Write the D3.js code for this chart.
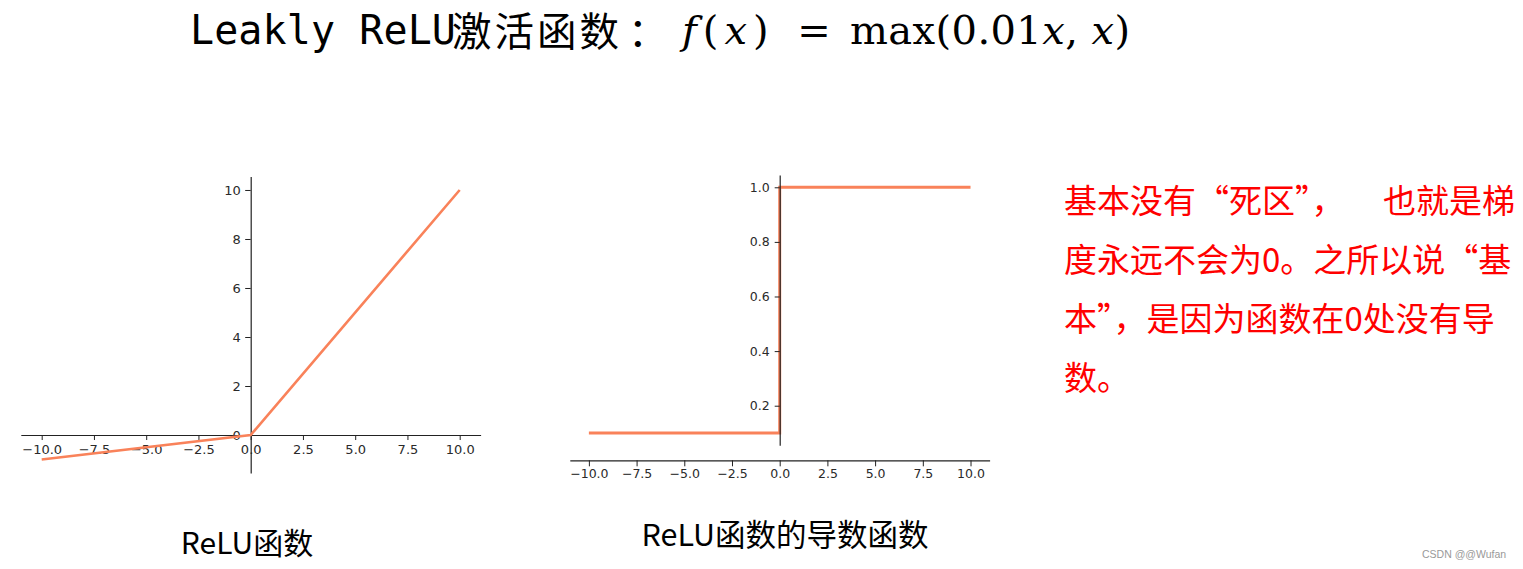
<!DOCTYPE html>
<html>
<head>
<meta charset="utf-8">
<script src="https://cdn.jsdelivr.net/npm/d3@7"></script>
<style>
  html, body { margin: 0; padding: 0; background: #fff; }
  svg { display: block; }
</style>
</head>
<body>
<svg id="chart" width="1523" height="569"></svg>
<script>
// data
const xTicks = [-10, -7.5, -5, -2.5, 0, 2.5, 5, 7.5, 10];
const leakyTicks = [0, 2, 4, 6, 8, 10];
const derivTicks = [0.2, 0.4, 0.6, 0.8, 1.0];

const leakyX = [-10, 0, 10];
const leakyY = [-1, 0, 10];

const derivX = [-10, 0, 0, 10];
const derivY = [0.1, 0.1, 1, 1];

const noteLines = [
    ["基本没有“死区”，", "也就是梯"],
    ["度永远不会为0。之所以说“基"],
    ["本”，是因为函数在0处没有导"],
    ["数。"]
];

const lineColor = "#f9825a";
const axisColor = "#222";

const svg = d3.select("#chart");

// title
svg.append("text")
    .attr("x", 190).attr("y", 44)
    .style("font-family", "'DejaVu Sans Mono'")
    .style("font-size", "40px")
    .style("letter-spacing", "0.1px")
    .style("fill", "#000")
    .text("Leakly ReLU");
const cn = svg.append("text")
    .attr("x", 452).attr("y", 46)
    .style("font-family", "'Noto Sans CJK SC'")
    .style("font-size", "39.5px")
    .style("letter-spacing", "3px")
    .style("fill", "#000");
cn.append("tspan").text("激活函数");
cn.append("tspan").attr("dx", 6).text("：");

const math = svg.append("g")
    .style("font-family", "'DejaVu Serif'")
    .style("font-size", "40px")
    .style("fill", "#000");
const fx = math.append("text").attr("x", 682).attr("y", 44)
    .style("letter-spacing", "6px");
fx.append("tspan").style("font-style", "italic").text("f");
fx.append("tspan").text("(");
fx.append("tspan").style("font-style", "italic").text("x");
fx.append("tspan").text(")");
math.append("text").attr("x", 814).attr("y", 44)
    .attr("text-anchor", "middle").text("=");
const mx = math.append("text").attr("x", 850).attr("y", 44)
    .style("letter-spacing", "0.4px");
mx.append("tspan").text("max(0.01");
mx.append("tspan").style("font-style", "italic").text("x");
mx.append("tspan").text(", ");
mx.append("tspan").style("font-style", "italic").text("x");
mx.append("tspan").text(")");

function styleAxis(g, size) {
    g.selectAll("path, line").attr("stroke", axisColor);
    g.select(".domain").attr("stroke-width", 1.2);
    g.selectAll("text")
        .style("font-family", "'DejaVu Sans'")
        .style("font-size", size + "px")
        .style("fill", "#2a2a2a");
}

const fmt = d3.format(".1f");

// left chart: leaky relu
const x1 = d3.scaleLinear().domain([-11, 11]).range([20.8, 480.6]);
const y1 = d3.scaleLinear().domain([-1.55, 10.55]).range([473, 176.5]);

svg.append("g")
    .attr("transform", `translate(0,${y1(0)})`)
    .call(d3.axisBottom(x1).tickValues(xTicks).tickFormat(fmt)
        .tickSizeInner(5).tickSizeOuter(0).tickPadding(5))
    .call(g => styleAxis(g, 13));

svg.append("g")
    .attr("transform", `translate(${x1(0)},0)`)
    .call(d3.axisLeft(y1).tickValues(leakyTicks).tickFormat(d3.format("d"))
        .tickSizeInner(5.5).tickSizeOuter(0).tickPadding(4.5))
    .call(g => styleAxis(g, 13));

svg.append("path")
    .datum(d3.zip(leakyX, leakyY))
    .attr("fill", "none")
    .attr("stroke", lineColor)
    .attr("stroke-width", 2.6)
    .attr("d", d3.line().x(d => x1(d[0])).y(d => y1(d[1])));

// right chart: derivative
const x2 = d3.scaleLinear().domain([-11, 11]).range([569.8, 989.6]);
const y2 = d3.scaleLinear().domain([0.055, 1.045]).range([445.3, 175]);

svg.append("g")
    .attr("transform", `translate(0,${y2(0)})`)
    .call(d3.axisBottom(x2).tickValues(xTicks).tickFormat(fmt)
        .tickSizeInner(6).tickSizeOuter(0).tickPadding(3))
    .call(g => styleAxis(g, 12.5));

svg.append("path")
    .datum(d3.zip(derivX, derivY))
    .attr("fill", "none")
    .attr("stroke", lineColor)
    .attr("stroke-width", 3)
    .attr("d", d3.line().x(d => x2(d[0])).y(d => y2(d[1])));

svg.append("g")
    .attr("transform", `translate(${x2(0)},0)`)
    .call(d3.axisLeft(y2).tickValues(derivTicks).tickFormat(fmt)
        .tickSizeInner(5).tickSizeOuter(0).tickPadding(5))
    .call(g => styleAxis(g, 12.5));

// captions under the charts
svg.append("text")
    .attr("x", 247).attr("y", 554)
    .attr("text-anchor", "middle")
    .style("font-family", "'Noto Sans CJK SC'")
    .style("font-size", "30px")
    .style("fill", "#000")
    .text("ReLU函数");

svg.append("text")
    .attr("x", 785).attr("y", 546)
    .attr("text-anchor", "middle")
    .style("font-family", "'Noto Sans CJK SC'")
    .style("font-size", "30.5px")
    .style("fill", "#000")
    .text("ReLU函数的导数函数");

// red note on the right
const note = svg.append("g")
    .style("font-family", "'Noto Sans CJK SC'")
    .style("font-size", "33px")
    .style("fill", "#ff0000");

noteLines.forEach((parts, i) => {
    const t = note.append("text").attr("y", 213 + i * 59);
    t.append("tspan").attr("x", 1064).text(parts[0]);
    if (parts[1]) t.append("tspan").attr("x", 1383).text(parts[1]);
});

// watermark
svg.append("text")
    .attr("x", 1422).attr("y", 558)
    .style("font-family", "'Liberation Sans'")
    .style("font-size", "10.5px")
    .style("fill", "#999")
    .text("CSDN @@Wufan");
</script>
</body>
</html>
